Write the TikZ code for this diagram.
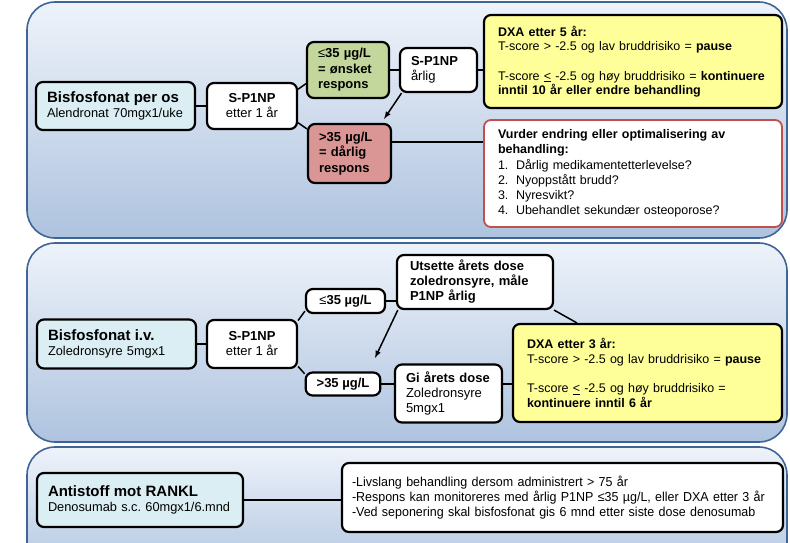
\documentclass[tikz,border=0pt]{standalone}
\usepackage{fontspec}
\setmainfont{Liberation Sans}
\newfontfamily\narrowfont[FakeStretch=0.96]{Liberation Sans}
\usepackage{tikz}
\frenchspacing

\definecolor{panelline}{HTML}{3F6597}
\definecolor{paneltop}{HTML}{EEF3FA}
\definecolor{panelbottom}{HTML}{AEC3DF}
\definecolor{agentfill}{HTML}{DBEEF4}
\definecolor{goodfill}{HTML}{C3D69B}
\definecolor{badfill}{HTML}{D99694}
\definecolor{dxafill}{HTML}{FFFF99}
\definecolor{warnline}{HTML}{C0504D}

\newcommand{\bigtitle}{\bfseries\fontsize{15}{16}\selectfont}

\begin{document}
\begin{tikzpicture}[x = 1pt, y = -1pt, line width = 1.5pt,
                      panel/.style = {draw = panelline, line width = 1.6pt, rounded corners = 28pt,
                                      top color = paneltop, bottom color = panelbottom},
                      box/.style = {draw, line width = 2.2pt, rounded corners = 7pt, fill = white,
                                    inner xsep = 11pt, inner ysep = 0pt, align = left,
                                    font = \fontsize{13}{15}\selectfont},
                      cbox/.style = {box, align = center},
                      agent/.style = {box, fill = agentfill, font = \fontsize{12.8}{15}\selectfont},
                      dxa/.style = {box, fill = dxafill, inner xsep = 14pt,
                                    font = \fontsize{12.5}{14.5}\selectfont},
                      >=latex]
    \useasboundingbox (0, 0) rectangle (790, 542);
    \draw [panel] (27, 2) rectangle (787, 238);
    \draw [panel] (27, 243) rectangle (787, 442);
    \draw [panel] (27, 447) rectangle (787, 580);

    \node [agent, text width = 137pt, minimum height = 48pt] (bisOs) at (115.5, 106)
        {{\bigtitle Bisfosfonat per os}\\\mbox{Alendronat 70mgx1/uke}};
    \node [cbox, minimum width = 90pt, minimum height = 46pt] (sp1) at (252, 106)
        {\textbf{S-P1NP}\\etter 1 år};
    \node [box, fill = goodfill, text width = 60pt, minimum height = 56pt, font = \fontsize{13}{15.5}\selectfont\bfseries] (good) at (348, 70)
        {\textmd{≤}35 µg/L\\= ønsket\\respons};
    \node [box, fill = badfill, text width = 61pt, minimum height = 59pt, font = \fontsize{13}{15.5}\selectfont\bfseries] (bad) at (349.5, 153.5)
        {>35 µg/L\\= dårlig\\respons};
    \node [box, text width = 55pt, minimum height = 44pt] (arlig) at (438.5, 70)
        {\textbf{S-P1NP}\\årlig};
    \node [dxa, text width = 270pt, minimum height = 93pt] (dxaFive) at (633, 61.5)
        {\textbf{DXA etter 5 år:}\\T-score > -2.5 og lav bruddrisiko = \textbf{pause}\\[15pt]
         T-score \underline{<} -2.5 og høy bruddrisiko = \textbf{kontinuere}\\\textbf{inntil 10 år eller endre behandling}};
    \node [box, draw = warnline, line width = 1.8pt, inner xsep = 14pt, text width = 270pt, minimum height = 107pt,
           font = \fontsize{12.5}{15.3}\selectfont] (vurder) at (633, 173.5)
        {\textbf{Vurder endring eller optimalisering av}\\\textbf{behandling:}\\
         \makebox[18pt][l]{1.}Dårlig medikamentetterlevelse?\\
         \makebox[18pt][l]{2.}Nyoppstått brudd?\\
         \makebox[18pt][l]{3.}Nyresvikt?\\
         \makebox[18pt][l]{4.}Ubehandlet sekundær osteoporose?};

    \coordinate (badTip) at ([shift = {(-8, -4)}]bad.north east);
    \draw (bisOs) -- (sp1);
    \draw (sp1.20) -- (good.198);
    \draw (sp1.-20) -- (bad.150);
    \draw (good) -- (arlig);
    \draw (arlig.east) -- (arlig.east -| dxaFive.west);
    \draw [->] (arlig.212) -- (badTip);
    \draw ([yshift = 11.5pt]bad.east) -- ([yshift = 11.5pt]bad.east -| vurder.west);

    \node [agent, text width = 137pt, minimum height = 49pt] (bisIv) at (116.5, 344)
        {{\bigtitle Bisfosfonat i.v.}\\Zoledronsyre 5mgx1};
    \node [cbox, minimum width = 90pt, minimum height = 48pt] (sp2) at (252, 344)
        {\textbf{S-P1NP}\\etter 1 år};
    \node [cbox, minimum width = 79pt, minimum height = 24pt, font = \fontsize{13}{15}\selectfont\bfseries] (low) at (345.5, 301)
        {\textmd{≤}35 µg/L};
    \node [cbox, minimum width = 74pt, minimum height = 23pt, font = \fontsize{13}{15}\selectfont\bfseries] (high) at (343, 384)
        {>35 µg/L};
    \node [box, inner xsep = 13pt, text width = 130pt, minimum height = 54pt, font = \fontsize{13}{15}\selectfont\bfseries] (utsette) at (475, 282)
        {Utsette årets dose\\zoledronsyre, måle\\P1NP årlig};
    \node [box, text width = 85pt, minimum height = 58pt] (gi) at (448.5, 393.5)
        {\textbf{Gi årets dose}\\Zoledronsyre\\5mgx1};
    \node [dxa, text width = 241pt, minimum height = 98pt] (dxaThree) at (647.5, 373)
        {\textbf{DXA etter 3 år:}\\T-score > -2.5 og lav bruddrisiko = \textbf{pause}\\[15pt]
         T-score \underline{<} -2.5 og høy bruddrisiko =\\\textbf{kontinuere inntil 6 år}};

    \coordinate (highTip) at (375, 358);
    \draw (bisIv) -- (sp2);
    \draw (sp2.27) -- (low.194);
    \draw (sp2.-26) -- (high.165);
    \draw (low.east) -- (low.east -| utsette.west);
    \draw (high.east) -- (high.east -| gi.west);
    \draw (high.east -| gi.east) -- (high.east -| dxaThree.west);
    \draw [->] (utsette.200) -- (highTip);
    \draw (utsette.south east) -- ([xshift = 65pt]dxaThree.north west);

    \node [agent, text width = 184pt, minimum height = 54pt] (anti) at (140, 500)
        {{\bigtitle Antistoff mot RANKL}\\\mbox{Denosumab s.c. 60mgx1/6.mnd}};
    \node [box, inner xsep = 10pt, text width = 421pt, minimum height = 69pt,
           font = \narrowfont\fontsize{13}{15}\selectfont] (notes) at (562.5, 497.5)
        {-Livslang behandling dersom administrert > 75 år\\
         -Respons kan monitoreres med årlig P1NP ≤35 µg/L, eller DXA etter 3 år\\
         -Ved seponering skal bisfosfonat gis 6 mnd etter siste dose denosumab};

    \draw (anti.east) -- (anti.east -| notes.west);
\end{tikzpicture}
\end{document}
